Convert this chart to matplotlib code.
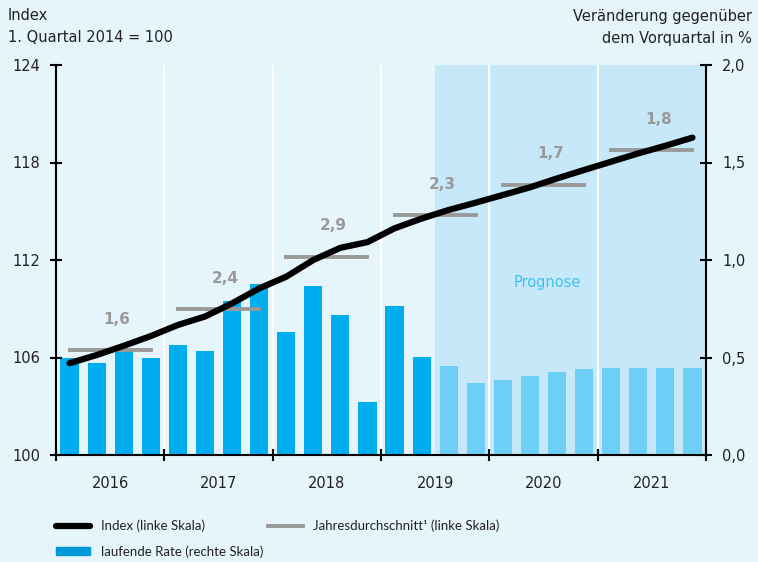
import matplotlib.pyplot as plt
import matplotlib.patches as mpatches
import matplotlib.lines as mlines
import numpy as np

plt.rcParams['font.family'] = ['DejaVu Sans']

jahre = ['2016', '2017', '2018', '2019', '2020', '2021']
# laufende Rate, Veraenderung gegenueber Vorquartal in % (rechte Skala)
rate = [0.50, 0.47, 0.535, 0.50,
        0.565, 0.535, 0.79, 0.875,
        0.63, 0.865, 0.72, 0.27,
        0.765, 0.505, 0.455, 0.37,
        0.385, 0.405, 0.425, 0.44,
        0.445, 0.445, 0.445, 0.445]
# Index, 1. Quartal 2014 = 100 (linke Skala)
index = [105.65, 106.15, 106.72, 107.32,
         108.0, 108.52, 109.33, 110.25,
         110.97, 112.0, 112.75, 113.1,
         113.95, 114.55, 115.08, 115.53,
         116.0, 116.47, 117.02, 117.54,
         118.05, 118.56, 119.03, 119.53]
jahresdurchschnitt = [106.46, 108.97, 112.2, 114.75, 116.63, 118.75]
jahres_label = ['1,6', '2,4', '2,9', '2,3', '1,7', '1,8']
prognose_ab = 14  # 3. Quartal 2019

bg = '#e6f4fc'
txt = '#222222'
fig = plt.figure(figsize=(7.58, 5.62), dpi=100, facecolor=bg)
ax = fig.add_axes([56/758, 1-455/562, 650/758, 390/562])
ax.set_facecolor(bg)
ax2 = ax.twinx()

x = np.arange(len(rate)) + 0.5
farben = ['#00aeef' if i < prognose_ab else '#6dcff6' for i in range(len(rate))]
ax.axvspan(prognose_ab, len(rate), color='#c6e8f8', lw=0, zorder=0)
for k in range(1, len(jahre)):
    ax.axvline(4*k, color='white', lw=1.5, zorder=1)
ax.bar(x, rate, width=0.67, color=farben, zorder=2)
ax.set_ylim(0, 2.0)
ax.set_xlim(0, len(rate))
ax.set_yticks([0, 0.5, 1.0, 1.5, 2.0])
ax.set_yticklabels(['0,0', '0,5', '1,0', '1,5', '2,0'])
ax.yaxis.tick_right()
ax.set_xticks([4*k for k in range(len(jahre)+1)])
ax.set_xticklabels([])
ax.set_xticks([4*k+2 for k in range(len(jahre))], minor=True)
ax.set_xticklabels(jahre, minor=True)
ax.tick_params(axis='x', which='major', direction='inout', length=9, width=1.5, color='black')
ax.tick_params(axis='x', which='minor', length=0, pad=15, labelsize=10.5, labelcolor=txt)
ax.tick_params(axis='y', direction='inout', length=9, width=1.5, labelsize=10.5, labelcolor=txt, pad=7)

for s in ['top', 'left']:
    ax.spines[s].set_visible(False)
ax.spines['right'].set_linewidth(1.5)
ax.spines['bottom'].set_linewidth(1.5)

for s in ['top', 'right', 'bottom']:
    ax2.spines[s].set_visible(False)
ax2.spines['left'].set_linewidth(1.5)
ax2.yaxis.tick_left()
ax2.set_ylim(100, 124)
ax2.set_yticks([100, 106, 112, 118, 124])
ax2.tick_params(axis='y', direction='inout', length=9, width=1.5, labelsize=10.5, labelcolor=txt, pad=7)

ax2.plot(x, index, color='black', lw=4.5, solid_capstyle='round', solid_joinstyle='round', zorder=5)
for k, (wert, lab) in enumerate(zip(jahresdurchschnitt, jahres_label)):
    ax2.plot([4*k+0.5, 4*k+3.5], [wert, wert], color='#999999', lw=2.8, zorder=4)
    ax2.text(4*k+2.25, wert+1.9, lab, color='#999999', fontsize=11, fontweight='bold',
             ha='center', va='center')
ax2.text(18.15, 110.6, 'Prognose', color='#40c0f0', fontsize=10.5, ha='center', va='center')

fig.text(8/758, 1-16/562, 'Index', fontsize=10.5, color=txt, va='center')
fig.text(8/758, 1-37/562, '1. Quartal 2014 = 100', fontsize=10.5, color=txt, va='center')
fig.text(752/758, 1-17/562, 'Veränderung gegenüber', fontsize=10.5, color=txt, va='center', ha='right')
fig.text(752/758, 1-38/562, 'dem Vorquartal in %', fontsize=10.5, color=txt, va='center', ha='right')

h_index = mlines.Line2D([], [], color='black', lw=4.5, solid_capstyle='round')
h_rate = mpatches.Patch(color='#0099d8')
h_avg = mlines.Line2D([], [], color='#999999', lw=2.8)
fig.legend([h_index, h_rate, h_avg],
           ['Index (linke Skala)', 'laufende Rate (rechte Skala)', 'Jahresdurchschnitt¹ (linke Skala)'],
           ncol=2, loc='upper left', bbox_to_anchor=(44/758, 1-508/562), frameon=False,
           prop={'family': ['Lato', 'DejaVu Sans'], 'size': 9.5},
           handlelength=2.6, handleheight=0.6, handletextpad=0.8, columnspacing=0.4,
           labelspacing=0.95, labelcolor=txt)

fig.savefig('out.png', dpi=100, facecolor=bg)
